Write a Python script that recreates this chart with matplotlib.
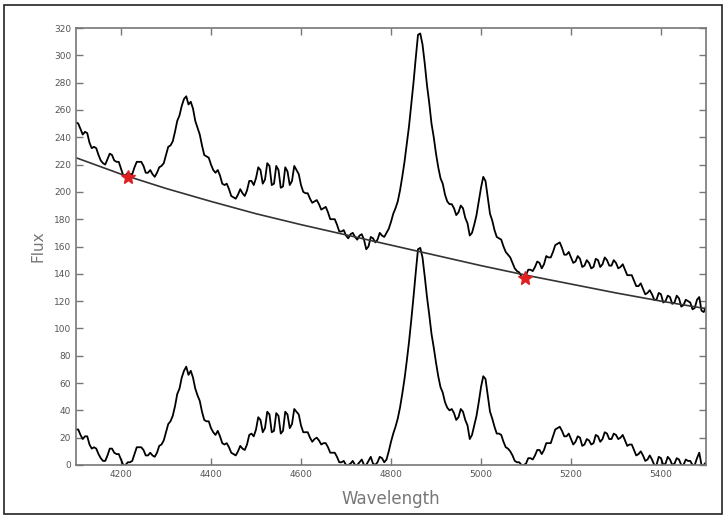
import numpy as np
import matplotlib
matplotlib.use('Agg')
import matplotlib.pyplot as plt
from matplotlib.patches import Rectangle

# Longitud de onda (Angstrom), paso de 5
wavelength = np.arange(4100, 5501, 5)

# Espectro observado (curva superior)
flux_observed = [
    251, 250, 246, 242, 244, 243, 236, 232, 233, 232, 227, 223, 221, 220, 224, 228, 227, 223, 222, 222,
    217, 212, 212, 214, 213, 213, 218, 222, 222, 222, 219, 214, 214, 216, 213, 211, 214, 218, 219, 221,
    227, 233, 234, 237, 244, 252, 256, 263, 268, 270, 264, 266, 261, 252, 247, 242, 234, 227, 226, 225,
    220, 216, 214, 216, 212, 206, 205, 206, 202, 197, 196, 195, 198, 202, 199, 197, 201, 208, 208, 205,
    210, 218, 216, 206, 209, 221, 219, 205, 206, 219, 216, 203, 204, 218, 215, 205, 208, 219, 216, 213,
    205, 200, 199, 199, 195, 192, 193, 194, 191, 187, 188, 189, 185, 180, 180, 180, 176, 171, 171, 172,
    168, 166, 169, 170, 167, 165, 168, 169, 165, 158, 160, 167, 166, 163, 165, 170, 168, 167, 170, 173,
    178, 184, 188, 193, 201, 211, 222, 235, 248, 264, 280, 298, 315, 316, 308, 294, 278, 265, 250, 240,
    228, 218, 210, 206, 198, 193, 191, 191, 188, 183, 185, 190, 188, 181, 177, 168, 170, 176, 183, 193,
    203, 211, 208, 196, 184, 179, 172, 167, 166, 165, 160, 156, 154, 152, 148, 144, 142, 141, 138, 137,
    139, 143, 143, 142, 145, 149, 148, 144, 147, 153, 152, 152, 156, 161, 162, 163, 159, 154, 154, 156,
    152, 148, 149, 153, 151, 145, 146, 150, 148, 144, 145, 151, 150, 145, 147, 152, 150, 146, 146, 150,
    148, 144, 145, 147, 143, 139, 139, 139, 135, 131, 131, 133, 129, 125, 126, 128, 125, 121, 121, 126,
    125, 119, 120, 124, 123, 118, 119, 124, 122, 116, 117, 121, 120, 119, 114, 115, 121, 123, 113, 112,
    116,
]

# Espectro sin continuo (curva inferior)
flux_subtracted = [
    26, 26, 22, 19, 21, 21, 15, 12, 13, 12, 8, 5, 3, 3, 7, 12, 12, 9, 8, 8,
    4, 0, 0, 2, 2, 3, 8, 13, 13, 13, 11, 7, 7, 9, 7, 6, 9, 14, 15, 18,
    24, 30, 32, 36, 43, 52, 56, 64, 69, 72, 66, 69, 64, 56, 51, 47, 39, 33, 32, 32,
    27, 24, 22, 25, 21, 16, 15, 16, 13, 9, 8, 7, 10, 14, 12, 11, 15, 22, 23, 21,
    26, 35, 33, 24, 27, 39, 37, 24, 25, 38, 36, 23, 25, 39, 37, 27, 30, 41, 39, 37,
    29, 24, 24, 24, 20, 17, 19, 20, 18, 15, 16, 16, 13, 9, 9, 9, 6, 2, 2, 3,
    0, 0, 1, 3, 0, 0, 2, 4, 0, 0, 3, 6, 1, 0, 2, 6, 5, 2, 4, 10,
    17, 23, 28, 34, 42, 52, 63, 76, 90, 106, 123, 141, 158, 159, 152, 138, 123, 110, 96, 86,
    75, 65, 57, 53, 46, 42, 40, 41, 38, 33, 35, 41, 39, 33, 29, 19, 22, 29, 36, 46,
    57, 65, 63, 51, 39, 34, 28, 23, 23, 22, 17, 13, 12, 10, 7, 3, 2, 2, 0, 0,
    1, 5, 5, 4, 7, 11, 11, 8, 11, 16, 16, 16, 21, 26, 27, 28, 25, 21, 21, 23,
    19, 15, 17, 21, 20, 14, 15, 19, 18, 15, 16, 22, 21, 17, 19, 24, 23, 19, 19, 23,
    22, 19, 20, 22, 18, 14, 15, 15, 11, 7, 8, 10, 7, 3, 4, 7, 4, 0, 0, 6,
    5, 0, 1, 6, 4, 0, 1, 5, 4, 0, 0, 4, 3, 3, 0, 0, 5, 9, 0, 0,
    2,
]

# Continuo ajustado
cont_wavelength = [4100, 4200, 4300, 4400, 4500, 4600, 4700, 4800,
                   4900, 5000, 5100, 5200, 5300, 5400, 5500]
cont_flux = [225, 213, 202.5, 193, 184, 176, 168.5, 161,
             153.5, 146, 139, 132.5, 126, 120, 114.5]

# Puntos usados para el ajuste
fit_wavelength = [4215, 5098]
fit_flux = [211, 137]

fig = plt.figure(figsize=(7.26, 5.18), dpi=100)
ax = fig.add_axes([76 / 726, 53 / 518, 630 / 726, 437 / 518])

ax.plot(wavelength, flux_observed, color='black', lw=1.3)
ax.plot(wavelength, flux_subtracted, color='black', lw=1.3)
ax.plot(cont_wavelength, cont_flux, color='#333333', lw=1.2)
ax.plot(fit_wavelength, fit_flux, linestyle='none', marker='*', color='#e02020',
        markersize=10, zorder=5)

ax.set_xlim(4100, 5500)
ax.set_ylim(0, 320)
ax.set_xticks(np.arange(4200, 5401, 200))
ax.set_yticks(np.arange(0, 321, 20))

gris = '#777777'
for s in ax.spines.values():
    s.set_color(gris)
    s.set_linewidth(1.2)
ax.tick_params(direction='in', length=5, width=1, color=gris, labelcolor='#555555',
               labelsize=6.5, top=True, right=True)

ax.set_xlabel('Wavelength', color='#777777', fontsize=12, labelpad=8)
ax.set_ylabel('Flux', color='#777777', fontsize=11, labelpad=6)

# Marco exterior
fig.patches.append(Rectangle((4 / 726, 4 / 518), 718 / 726, 509 / 518,
                             transform=fig.transFigure, fill=False,
                             edgecolor='#222222', lw=1.2))

fig.savefig('out.png', dpi=100)
